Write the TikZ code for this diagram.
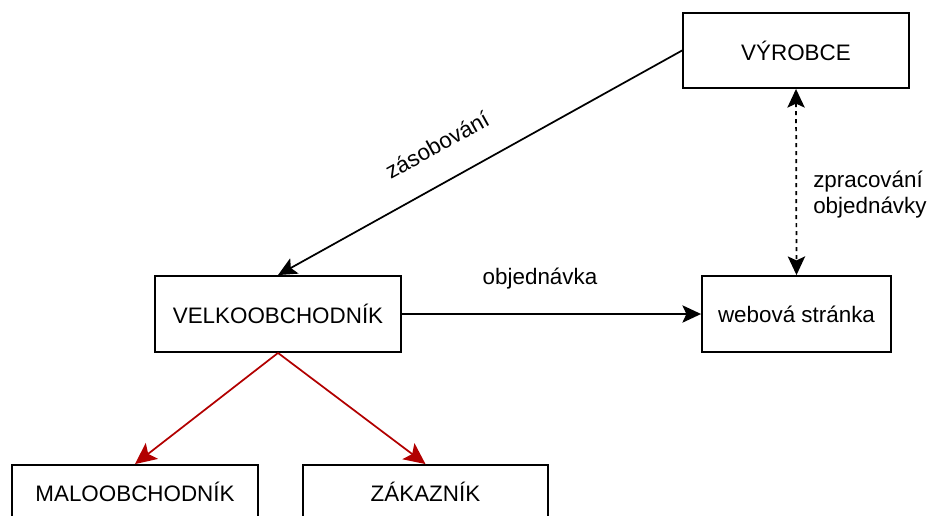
\documentclass[tikz,border=0pt]{standalone}
\usepackage{fontspec}
\setmainfont{Liberation Sans}
\usetikzlibrary{arrows.meta}
\definecolor{darkred}{HTML}{B20000}
\tikzset{
  box/.style={draw=black, line width=1.4pt, fill=white, inner sep=0pt, align=center},
  conn/.style={line width=1.3pt, -{Stealth[length=14pt,width=13pt,inset=3pt]}},
  redconn/.style={line width=1.3pt, draw=darkred, -{Stealth[length=16pt,width=15pt,inset=3.5pt,fill=darkred]}},
  lbl/.style={inner sep=0pt},
}
\begin{document}
\begin{tikzpicture}[x=0.75pt,y=-0.75pt,font=\fontsize{16.8}{19.5}\selectfont]
\useasboundingbox (0,0) rectangle (928,515);
\node[box, minimum width=169.5pt, minimum height=56.25pt] (vyr) at (796,50.5) {VÝROBCE};
\node[box, minimum width=184.5pt, minimum height=57pt] (velko) at (278,314) {VELKOOBCHODNÍK};
\node[box, minimum width=141.75pt, minimum height=57pt] (web) at (796.5,314) {webová stránka};
\node[box, minimum width=184.5pt, minimum height=40.5pt] (malo) at (135,492) {MALOOBCHODNÍK};
\node[box, minimum width=183.75pt, minimum height=40.5pt] (zak) at (425.5,492) {ZÁKAZNÍK};

\draw[conn] (vyr.west) -- (velko.north);
\draw[conn] (velko.east) -- (web.west);
\draw[line width=1.3pt, {Stealth[length=14pt,width=13pt,inset=3pt]}-{Stealth[length=14pt,width=13pt,inset=3pt]}, dash pattern=on 3pt off 3pt] (vyr.south) -- (web.north);
\draw[redconn] (velko.south) -- (malo.north);
\draw[redconn] (velko.south) -- (zak.north);

\node[lbl, rotate=29] (l1) at (437,145) {zásobování};
\node[lbl] (l2) at (540,279) {objednávka};
\node[lbl, anchor=west, align=left] (l3) at (813,195) {zpracování\\objednávky};
\end{tikzpicture}
\end{document}
